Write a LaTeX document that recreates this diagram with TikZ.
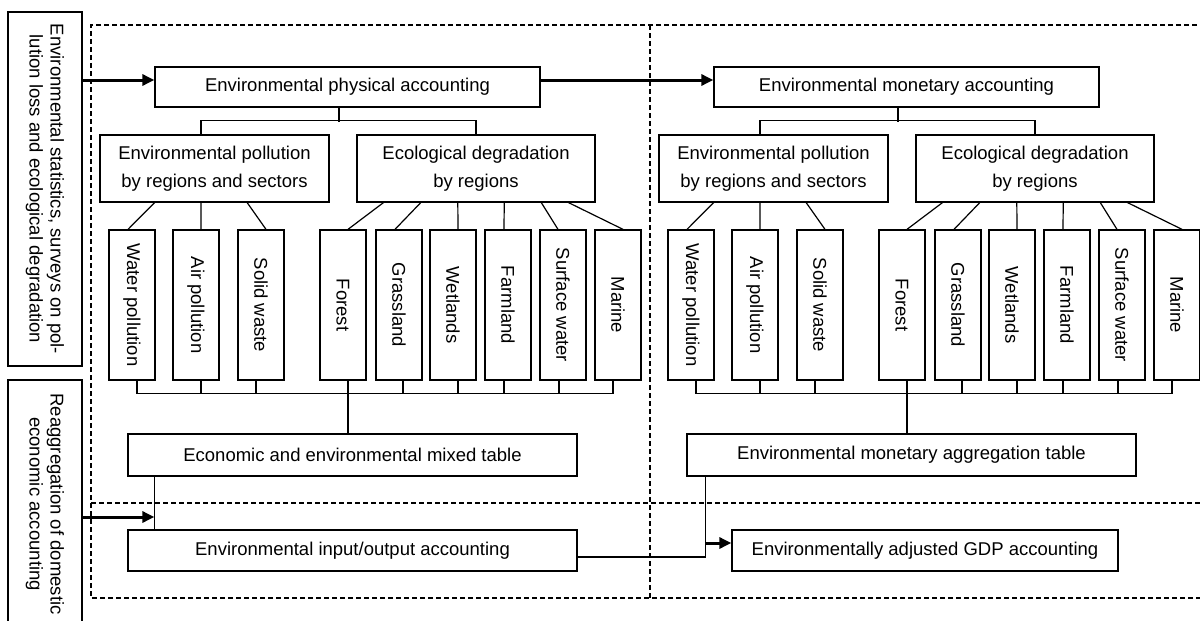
\documentclass[tikz,border=0pt]{standalone}
\usepackage{fontspec}
\setmainfont{Liberation Sans}
\usetikzlibrary{arrows.meta,calc}

\tikzset{
  box/.style={draw, line width=1.3pt, inner sep=0pt, align=center,
    font=\fontsize{18.5}{27.5}\selectfont},
  leafbox/.style={box, rotate=-90, minimum width=150pt, minimum height=46pt},
  srcbox/.style={box, rotate=-90, minimum height=74pt,
    font=\fontsize{18.5}{21}\selectfont},
  link/.style={line width=1.2pt},
  flow/.style={line width=3pt, -{Triangle[length=12pt,width=11pt]}},
  frame/.style={line width=2.2pt, dash pattern=on 5pt off 3pt}
}

\begin{document}
\begin{tikzpicture}[x=1pt, y=-1pt]
    \useasboundingbox (0,0) rectangle (1200,621);
    \clip (0,0) rectangle (1200,621);

    % inputs on the left
    \node[srcbox, minimum width=354pt] (src1) at (45,189)
        {Environmental statistics, surveys on pol-\\lution loss and ecological degradation};
    \node[srcbox, minimum width=248pt] (src2) at (45,504)
        {Reaggregation of domestic\\economic accounting};

    % dashed frames
    \draw[frame] (1205,25) -- (91,25) -- (91,598) -- (1205,598);
    \draw[frame] (650,25) -- (650,598);
    \draw[frame] (91,503) -- (1205,503);

    % physical (L) and monetary (R) halves
    \foreach \side/\dx/\head/\tabtxt in {L/0/Environmental physical accounting/Economic and environmental mixed table,
                                          R/559/Environmental monetary accounting/Environmental monetary aggregation table}{
    \begin{scope}[xshift=\dx pt]
        \node[box, minimum width=385pt, minimum height=40pt] (head\side) at (347.5,87) {\head};
        \node[box, minimum width=229pt, minimum height=67pt] (env\side) at (214.5,168.5)
            {Environmental pollution\\by regions and sectors};
        \node[box, minimum width=238pt, minimum height=67pt] (eco\side) at (476,168.5)
            {Ecological degradation\\by regions};
        \node[box, minimum width=449pt, minimum height=42pt] (tab\side) at (352.5,455) {\tabtxt};

        \draw[link] ([xshift=-8.5pt]head\side.south) -- ++(0,14);
        \draw[link] ([xshift=-13.5pt]env\side.north) -- ++(0,-14) -| (eco\side.north);

        \foreach \nm/\txt/\x/\up/\fr/\dA/\dB in {wat/Water pollution/132/env/0.240/-4/5,
                                                 air/Air pollution/196/env/0.441/5/5,
                                                 sol/Solid waste/261/env/0.642/5/-5,
                                                 for/Forest/343/eco/0.113/5/5,
                                                 gra/Grassland/399/eco/0.269/-4/4,
                                                 wet/Wetlands/453/eco/0.424/5/5,
                                                 far/Farmland/508/eco/0.618/-4/-4,
                                                 sur/Surface water/563/eco/0.773/-5/-4,
                                                 mar/Marine/618/eco/0.887/5/-5}{
            \node[leafbox] (\nm\side) at (\x,305) {\txt};
            \draw[link] ($(\up\side.south west)!\fr!(\up\side.south east)$) -- ([xshift=\dA pt]\nm\side.west);
            \draw[link] ([xshift=\dB pt]\nm\side.east) -- ++(0,13);
        }

        \draw[link] ([xshift=5pt]wat\side.east) -- ++(0,13) -| ([xshift=-5pt]mar\side.east);
        \coordinate (drop\side) at ([xshift=5pt]for\side.east);
        \draw[link] (drop\side) -- (drop\side |- tab\side.north);
    \end{scope}
    }

    \node[box, minimum width=449pt, minimum height=41pt] (io) at (352.5,550.5)
        {Environmental input/output accounting};
    \node[box, minimum width=386pt, minimum height=41pt] (gdp) at (925,550.5)
        {Environmentally adjusted GDP accounting};

    % arrows
    \coordinate (inA) at ([yshift=7pt]headL.west);
    \draw[flow] (inA -| src1.north) -- (inA);
    \draw[flow] ([yshift=7pt]headL.east) -- ([yshift=7pt]headR.west);

    \coordinate (tapL) at ($(tabL.south west)+(27,0)$);
    \draw[link] (tapL) -- (tapL |- io.north);
    \coordinate (inB) at (tapL |- 0,517);
    \draw[flow] (inB -| src2.north) -- (inB);

    \coordinate (tapR) at ($(tabR.south west)+(19,0)$);
    \coordinate (joinR) at (tapR |- 0,557);
    \draw[link] (tapR) -- (joinR) -- (io.east |- joinR);
    \coordinate (inC) at ([yshift=7.5pt]gdp.west);
    \draw[flow] (inC -| tapR) -- (inC);
\end{tikzpicture}
\end{document}
